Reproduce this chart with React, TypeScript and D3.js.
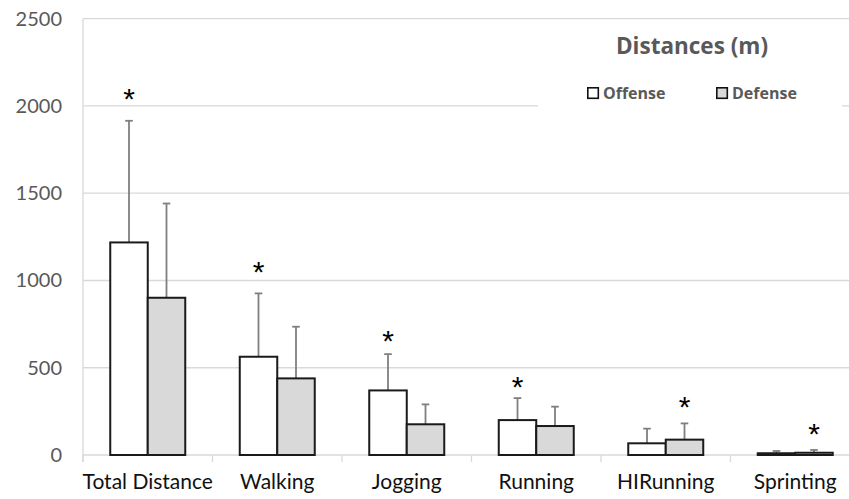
import React, { useEffect, useRef } from "react";
import * as d3 from "d3";

// categories and series
const categories = ["Total Distance", "Walking", "Jogging", "Running", "HIRunning", "Sprinting"];
const seriesNames = ["Offense", "Defense"];
const offenseMeans = [1218, 563, 370, 200, 67, 10];
const offenseSD = [697, 363, 208, 126, 84, 13];
const defenseMeans = [901, 439, 176, 166, 88, 13];
const defenseSD = [540, 296, 114, 111, 93, 16];
// asterisk: which series is marked, and at what height (in m)
const starSeries = ["Offense", "Offense", "Offense", "Offense", "Defense", "Defense"];
const starLevel = [2079, 1088, 693, 430, 315, 160];
const yTicks = [0, 500, 1000, 1500, 2000, 2500];

const W = 849;
const H = 499;
const FONT = "Lato, 'Liberation Sans', sans-serif";
const LEGEND_FONT = "'Open Sans', 'Liberation Sans', sans-serif";

const App: React.FC = () => {
  const svgRef = useRef<SVGSVGElement | null>(null);

  useEffect(() => {
    if (!svgRef.current) return;
    const svg = d3.select(svgRef.current);
    svg.selectAll("*").remove();

    const margin = { top: 18.7, left: 83, bottom: 455 };
    const x = d3.scaleBand<string>().domain(categories).range([margin.left, margin.left + 6 * 129.5]).padding(0);
    const barW = 37.5;
    const x1 = d3.scaleBand<string>().domain(seriesNames)
      .range([x.bandwidth() / 2 - barW, x.bandwidth() / 2 + barW]).padding(0);
    const y = d3.scaleLinear().domain([0, 2500]).range([margin.bottom, margin.top]);

    // gridlines
    svg.append("g")
      .selectAll("line")
      .data(yTicks)
      .enter()
      .append("line")
      .attr("x1", margin.left)
      .attr("x2", W)
      .attr("y1", (d) => y(d))
      .attr("y2", (d) => y(d))
      .attr("stroke", "#d9d9d9")
      .attr("stroke-width", 1.3);

    // left axis line
    svg.append("line")
      .attr("x1", margin.left).attr("x2", margin.left)
      .attr("y1", y(2500)).attr("y2", y(0) + 7)
      .attr("stroke", "#d9d9d9").attr("stroke-width", 1.3);

    // category tick marks
    const bounds = categories.map((c) => x(c) as number).concat([margin.left + 6 * 129.5]);
    svg.append("g")
      .selectAll("line")
      .data(bounds)
      .enter()
      .append("line")
      .attr("x1", (d) => d).attr("x2", (d) => d)
      .attr("y1", y(0)).attr("y2", y(0) + 7)
      .attr("stroke", "#d9d9d9").attr("stroke-width", 1.3);

    // y labels
    svg.append("g")
      .selectAll("text")
      .data(yTicks)
      .enter()
      .append("text")
      .attr("x", 62)
      .attr("y", (d) => y(d) + 7)
      .attr("text-anchor", "end")
      .style("font-family", FONT)
      .style("font-size", "20px")
      .attr("fill", "#595959")
      .text((d) => d);

    // x labels
    svg.append("g")
      .selectAll("text")
      .data(categories)
      .enter()
      .append("text")
      .attr("x", (d) => (x(d) as number) + x.bandwidth() / 2)
      .attr("y", 489)
      .attr("text-anchor", "middle")
      .style("font-family", FONT)
      .style("font-size", "21px")
      .attr("fill", "#111")
      .text((d) => d);

    // legend box covering gridline
    svg.append("rect")
      .attr("x", 538).attr("y", 26).attr("width", 304).attr("height", 84)
      .attr("fill", "#fff");

    const rows = categories.map((c, i) => ({
      cat: c,
      vals: [
        { s: "Offense", m: offenseMeans[i], sd: offenseSD[i], fill: "#ffffff" },
        { s: "Defense", m: defenseMeans[i], sd: defenseSD[i], fill: "#d9d9d9" },
      ],
    }));

    const groups = svg.append("g")
      .selectAll("g")
      .data(rows)
      .enter()
      .append("g")
      .attr("transform", (d) => `translate(${x(d.cat)},0)`);

    // error bars (upper half)
    groups.each(function (d) {
      const g = d3.select(this);
      d.vals.forEach((v) => {
        const cx = (x1(v.s) as number) + x1.bandwidth() / 2;
        g.append("line")
          .attr("x1", cx).attr("x2", cx)
          .attr("y1", y(v.m)).attr("y2", y(v.m + v.sd))
          .attr("stroke", "#7f7f7f").attr("stroke-width", 1.8);
        g.append("line")
          .attr("x1", cx - 3.8).attr("x2", cx + 3.8)
          .attr("y1", y(v.m + v.sd)).attr("y2", y(v.m + v.sd))
          .attr("stroke", "#7f7f7f").attr("stroke-width", 1.8);
      });
    });

    // bars
    groups.selectAll("rect")
      .data((d) => d.vals)
      .enter()
      .append("rect")
      .attr("x", (v) => x1(v.s) as number)
      .attr("y", (v) => y(v.m))
      .attr("width", x1.bandwidth())
      .attr("height", (v) => y(0) - y(v.m))
      .attr("fill", (v) => v.fill)
      .attr("stroke", "#1a1a1a")
      .attr("stroke-width", 2);

    // asterisks
    svg.append("g")
      .selectAll("text")
      .data(categories)
      .enter()
      .append("text")
      .attr("x", (d, i) => (x(d) as number) + (x1(starSeries[i]) as number) + x1.bandwidth() / 2)
      .attr("y", (d, i) => y(starLevel[i]) + 17)
      .attr("text-anchor", "middle")
      .style("font-family", "'Liberation Sans', sans-serif")
      .style("font-size", "30px")
      .attr("fill", "#000")
      .text("*");

    // legend
    svg.append("text")
      .attr("x", 692).attr("y", 54)
      .attr("text-anchor", "middle")
      .style("font-family", LEGEND_FONT)
      .style("font-size", "22.5px")
      .style("font-weight", "bold")
      .attr("fill", "#595959")
      .text("Distances (m)");

    const legendItems = [
      { s: seriesNames[0], fill: "#ffffff", x: 587 },
      { s: seriesNames[1], fill: "#d9d9d9", x: 716 },
    ];
    const li = svg.append("g")
      .selectAll("g")
      .data(legendItems)
      .enter()
      .append("g")
      .attr("transform", (d) => `translate(${d.x},87)`);
    li.append("rect")
      .attr("x", 0.8).attr("y", 0.8).attr("width", 10.5).attr("height", 10.5)
      .attr("fill", (d) => d.fill)
      .attr("stroke", "#111").attr("stroke-width", 1.6);
    li.append("text")
      .attr("x", 16).attr("y", 11.5)
      .style("font-family", LEGEND_FONT)
      .style("font-size", "16px")
      .style("font-weight", "bold")
      .attr("fill", "#595959")
      .text((d) => d.s);
  }, []);

  return (
    <svg
      ref={svgRef}
      width={W}
      height={H}
      style={{ position: "absolute", left: 0, top: 0, background: "#fff" }}
    />
  );
};

export default App;
